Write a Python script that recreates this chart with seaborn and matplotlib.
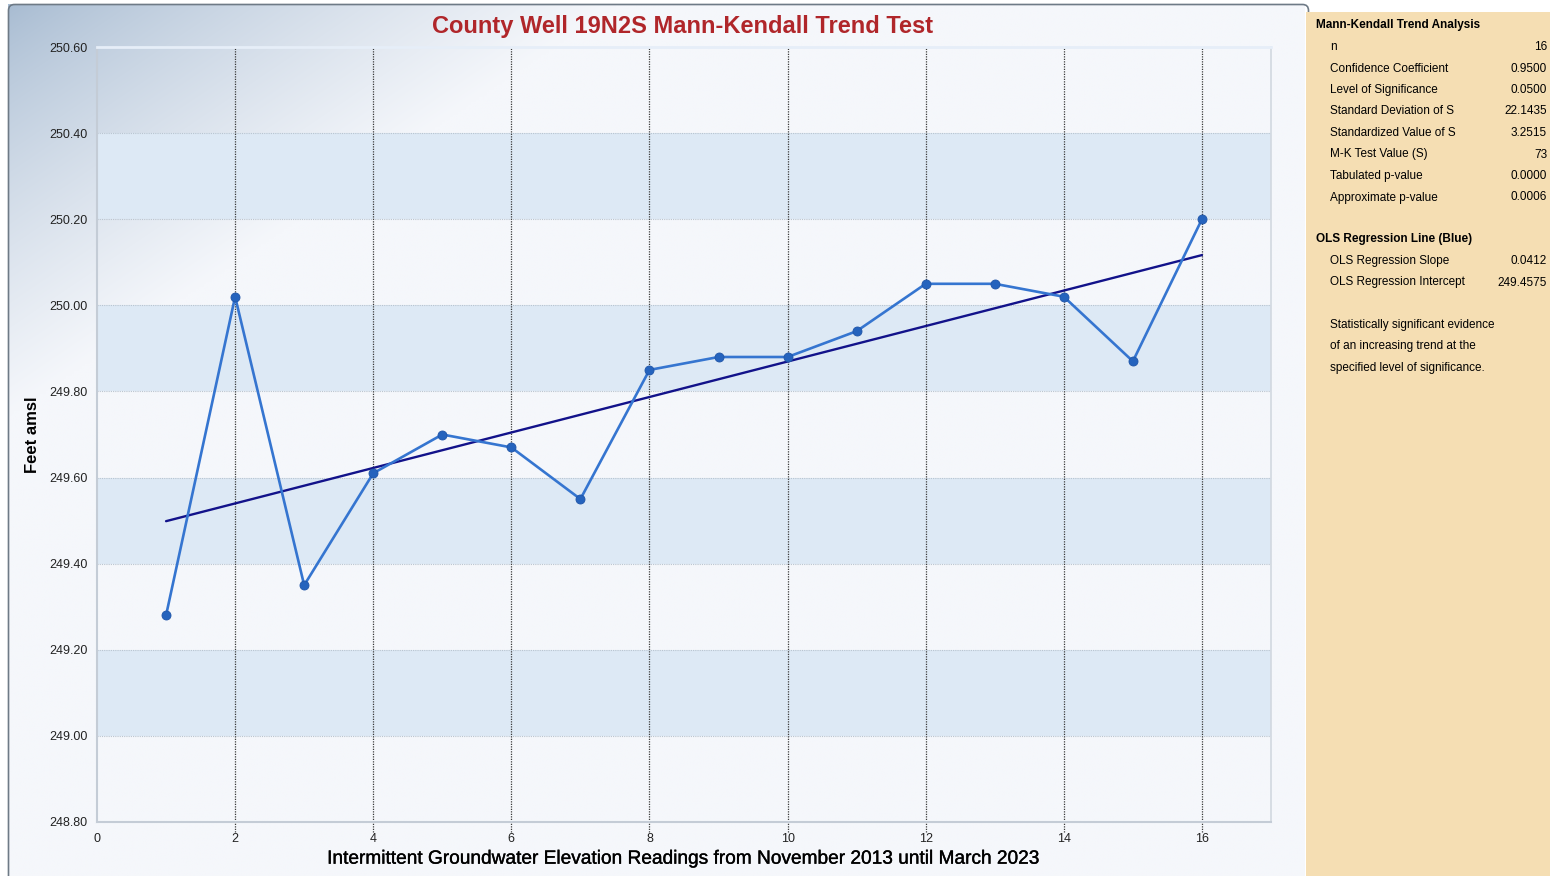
import numpy as np
import pandas as pd
import matplotlib
matplotlib.use("Agg")
import matplotlib.pyplot as plt
from matplotlib.patches import FancyBboxPatch, Rectangle
from matplotlib.colors import to_rgb
import matplotlib.patheffects as pe
import seaborn as sns

# ---------------- data ----------------
reading = [1, 2, 3, 4, 5, 6, 7, 8, 9, 10, 11, 12, 13, 14, 15, 16]
elevation = [249.28, 250.02, 249.35, 249.61, 249.70, 249.67, 249.55, 249.85,
             249.88, 249.88, 249.94, 250.05, 250.05, 250.02, 249.87, 250.20]
ols_slope = 0.0412
ols_intercept = 249.4575
x_ticks = [0, 2, 4, 6, 8, 10, 12, 14, 16]
y_ticks = [248.80, 249.00, 249.20, 249.40, 249.60, 249.80, 250.00, 250.20, 250.40, 250.60]
band_ranges = [(249.00, 249.20), (249.40, 249.60), (249.80, 250.00), (250.20, 250.40)]

title = "County Well 19N2S Mann-Kendall Trend Test"
x_label = "Intermittent Groundwater Elevation Readings from November 2013 until March 2023"
y_label = "Feet amsl"

mk_header = "Mann-Kendall Trend Analysis"
mk_labels = ["n", "Confidence Coefficient", "Level of Significance", "Standard Deviation of S",
             "Standardized Value of S", "M-K Test Value (S)", "Tabulated p-value", "Approximate p-value"]
mk_values = ["16", "0.9500", "0.0500", "22.1435", "3.2515", "73", "0.0000", "0.0006"]
ols_header = "OLS Regression Line (Blue)"
ols_labels = ["OLS Regression Slope", "OLS Regression Intercept"]
ols_values = ["0.0412", "249.4575"]
conclusion = ["Statistically significant evidence", "of an increasing trend at the",
              "specified level of significance."]

df = pd.DataFrame({"reading": reading, "elevation": elevation})
reg_x = np.array([reading[0], reading[-1]], dtype=float)
reg_df = pd.DataFrame({"reading": reg_x, "fit": ols_intercept + ols_slope * reg_x})

# ---------------- figure ----------------
sns.set_theme(style="white")
plt.rcParams["font.family"] = ["Liberation Sans", "DejaVu Sans"]

W, H = 1550, 876
fig = plt.figure(figsize=(W / 100, H / 100), dpi=100)
fig.patch.set_facecolor("white")

bg = fig.add_axes([0, 0, 1, 1], zorder=0)
bg.set_xlim(0, W)
bg.set_ylim(H, 0)
bg.axis("off")

# gradient background of chart frame (diagonal fade from the top-left corner)
gx, gy = np.meshgrid(np.linspace(8, 1305, 500), np.linspace(4, H, 350))
t = np.clip(gx / 620.0 + gy / 420.0, 0, 1) ** 0.75
c0 = np.array(to_rgb("#a3b8cf"))
c1 = np.array(to_rgb("#f5f7fb"))
img = c0[None, None, :] * (1 - t[..., None]) + c1[None, None, :] * t[..., None]
bg.imshow(img, extent=(8, 1305, H, 4), aspect="auto", zorder=0, interpolation="bilinear")

frame = FancyBboxPatch((8.5, 4.5), 1300, 880, boxstyle="round,pad=0,rounding_size=6",
                       fc="none", ec="#6e7a86", lw=1.2, zorder=2)
bg.add_patch(frame)

# right info panel
bg.add_patch(Rectangle((1306, 12), 250, 870, fc="#f5deb3", ec="none", zorder=3))

fs = 8.5
off = 4  # baseline offset from visual centre
bg.text(1316, 24 + off, mk_header, fontsize=fs, fontweight="bold", color="black",
        ha="left", va="baseline", zorder=4)
y0 = 46
step = 21.5
for i, (lab, val) in enumerate(zip(mk_labels, mk_values)):
    yy = y0 + i * step + off
    bg.text(1330, yy, lab, fontsize=fs, color="black", ha="left", va="baseline", zorder=4)
    bg.text(1547, yy, val, fontsize=fs, color="black", ha="right", va="baseline", zorder=4)
bg.text(1316, 238 + off, ols_header, fontsize=fs, fontweight="bold", color="black",
        ha="left", va="baseline", zorder=4)
for i, (lab, val) in enumerate(zip(ols_labels, ols_values)):
    yy = 260 + i * step + off
    bg.text(1330, yy, lab, fontsize=fs, color="black", ha="left", va="baseline", zorder=4)
    bg.text(1547, yy, val, fontsize=fs, color="black", ha="right", va="baseline", zorder=4)
for i, line in enumerate(conclusion):
    bg.text(1330, 324 + i * step + off, line, fontsize=fs, color="black",
            ha="left", va="baseline", zorder=4)

# title
bg.text(683, 33, title, fontsize=17, fontweight="bold", color="#b0262a",
        ha="center", va="baseline", zorder=4)

# ---------------- main axes ----------------
left, right, top, bottom = 97, 1271, 47, 822
ax = fig.add_axes([left / W, (H - bottom) / H, (right - left) / W, (bottom - top) / H], zorder=1)
ax.set_facecolor("none")

for lo, hi in band_ranges:
    ax.axhspan(lo, hi, color="#dde9f5", zorder=0, lw=0)
for yv in y_ticks[1:-1]:
    ax.axhline(yv, color="#b9c4cf", ls=(0, (1, 1)), lw=0.8, zorder=1)
for xv in x_ticks[1:]:
    ax.axvline(xv, ymin=-10 / 775, ymax=1, color="#3a3a3a", ls=(0, (1, 1)), lw=0.9,
               zorder=1, clip_on=False)

sns.lineplot(data=reg_df, x="reading", y="fit", ax=ax, color="#12128a", lw=1.7, zorder=3)
sns.lineplot(data=df, x="reading", y="elevation", ax=ax, color="#3575d0", lw=1.9,
             marker="o", markersize=6.5, markerfacecolor="#2563bd",
             markeredgecolor="#1f55a8", markeredgewidth=0.6, zorder=4)

ax.set_xlim(0, 17)
ax.set_ylim(248.80, 250.60)
ax.set_xticks(x_ticks)
ax.set_xticklabels([str(v) for v in x_ticks])
ax.set_yticks(y_ticks)
ax.set_yticklabels([f"{v:.2f}" for v in y_ticks])
ax.tick_params(axis="both", length=0, labelsize=9, labelcolor="#222222")
ax.tick_params(axis="x", pad=8)
ax.tick_params(axis="y", pad=7)

for side in ["left", "bottom"]:
    ax.spines[side].set_color("#c4ccd6")
    ax.spines[side].set_linewidth(1.5)
ax.spines["right"].set_color("#d2d8e0")
ax.spines["right"].set_linewidth(1.2)
ax.spines["top"].set_color("#e6eef8")
ax.spines["top"].set_linewidth(2)

xl = ax.set_xlabel(x_label, fontsize=13.75, color="black", labelpad=4)
xl.set_path_effects([pe.withStroke(linewidth=0.25, foreground="black")])
ax.set_ylabel(y_label, fontsize=12, fontweight="bold", color="black")
ax.yaxis.set_label_coords(-0.0486, 0.5)

fig.savefig("out.png", dpi=100)
